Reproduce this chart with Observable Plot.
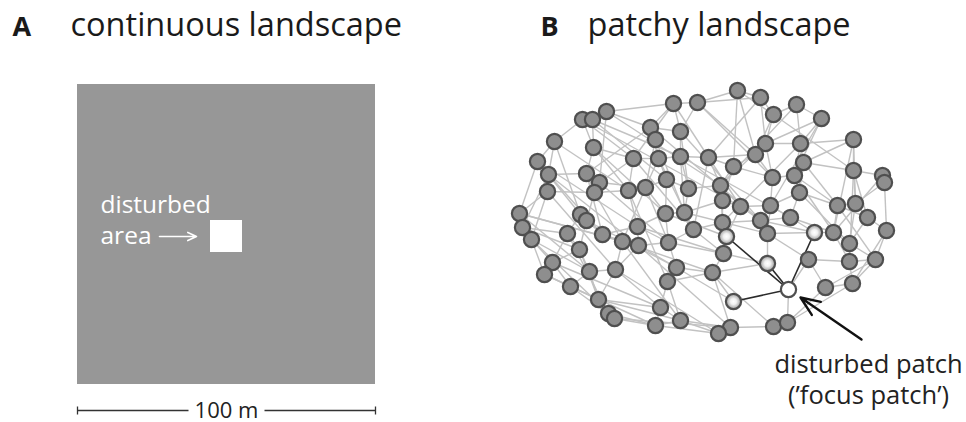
<!DOCTYPE html>
<html>
<head>
<meta charset="utf-8">
<script src="https://cdn.jsdelivr.net/npm/d3@7"></script>
<script src="https://cdn.jsdelivr.net/npm/@observablehq/plot@0.6"></script>
<style>
  html, body { margin: 0; padding: 0; background: #fff; }
  #chart svg { display: block; }
</style>
</head>
<body>
<div id="chart"></div>
<script>
// ---- Data ----
// Panel titles
const panelLetters = ["A", "B"];
const panelTitles = ["continuous landscape", "patchy landscape"];

// Panel A: continuous landscape (pixel-space extents of the square)
const landscapeX = [77, 375];
const landscapeY = [84, 384];
const disturbedAreaX = [210, 242];
const disturbedAreaY = [220, 252];
const areaLabel = ["disturbed", "area"];
const scaleBarLabel = "100 m";

// Panel B: patch network node positions
const nodeX = [737,673,697,760,606,582,592,773,796,821,650,655,680,554,593,765,755,800,853,537,
  633,658,680,708,733,803,548,586,599,666,772,794,853,882,884,547,594,628,645,688,
  720,799,722,740,770,837,855,519,522,531,580,586,567,602,637,665,684,693,722,760,
  790,867,886,622,638,668,767,833,849,579,552,544,589,615,676,667,723,808,849,875,
  712,570,598,608,614,660,655,680,825,852,730,718,773,787,
  726,814,767,733,
  788];
const nodeY = [90,103,102,97,111,119,119,114,104,118,127,139,131,141,147,143,154,143,139,161,
  158,158,156,157,166,162,174,173,182,179,177,175,170,175,182,191,192,190,187,188,
  185,192,200,206,205,205,203,213,227,239,214,220,233,234,226,213,212,229,222,220,
  217,217,230,241,245,242,233,232,243,249,262,274,271,269,267,281,253,259,261,259,
  272,286,299,313,318,307,325,320,287,283,327,333,326,322,
  236,232,263,301,
  289];
// node kind: 0 = ordinary patch, 1 = neighbour of the focus patch, 2 = focus patch
const nodeKind = nodeX.map((_, i) => i < 94 ? 0 : i < 98 ? 1 : 2);

// network links (pairs of node indices)
const edges = [
  [0,2],[0,3],[0,24],[0,7],[1,2],[1,4],[1,10],[1,12],[1,20],[2,3],[2,16],[2,12],[3,7],[3,23],
  [4,6],[4,28],[4,10],[5,6],[5,13],[5,14],[5,20],[6,14],[6,22],[7,8],[7,16],[7,32],[7,15],
  [8,9],[8,17],[9,15],[9,17],[9,31],[10,11],[10,12],[10,21],[10,27],[11,21],[11,38],[12,22],[12,39],
  [13,19],[13,26],[13,50],[14,27],[14,20],[14,37],[15,16],[15,17],[15,30],[15,40],[16,24],[16,30],[16,23],
  [17,25],[17,31],[17,18],[18,25],[18,32],[18,46],[19,26],[19,47],[19,35],[20,21],[20,37],[20,28],
  [21,22],[21,38],[21,29],[22,23],[22,39],[22,56],[23,24],[23,40],[23,57],[24,30],[24,40],[24,42],
  [25,31],[25,41],[25,32],[26,27],[26,35],[26,48],[27,28],[27,36],[27,53],[28,36],[28,38],
  [29,38],[29,39],[29,55],[30,31],[30,44],[31,41],[31,45],[32,33],[32,46],[32,61],[33,34],[34,46],[34,62],
  [35,36],[35,47],[35,49],[36,37],[36,51],[37,38],[37,54],[38,55],[38,63],[39,40],[39,56],
  [40,42],[40,58],[40,43],[41,44],[41,45],[41,60],[42,43],[42,58],[42,56],[43,44],[43,59],[43,94],
  [44,59],[44,60],[44,66],[45,46],[45,67],[45,61],[46,61],[46,68],[47,48],[48,49],[48,52],[49,70],[49,71],
  [50,51],[50,52],[50,53],[51,53],[51,69],[52,69],[52,70],[53,54],[53,63],[54,55],[54,64],[54,65],
  [55,56],[55,65],[56,57],[57,58],[57,65],[57,76],[58,94],[58,59],[59,60],[59,66],[60,95],[60,67],
  [61,62],[61,68],[62,79],[63,64],[63,73],[64,65],[64,73],[64,74],[65,74],[65,76],[66,77],[66,96],[66,95],
  [67,68],[67,95],[67,78],[68,78],[68,79],[69,72],[69,70],[70,71],[70,81],[71,81],[72,73],[72,82],[72,81],
  [73,82],[73,85],[74,75],[74,80],[75,85],[75,80],[75,87],[76,80],[76,94],[76,96],[77,78],[77,88],[77,98],
  [78,79],[78,89],[79,89],[80,97],[80,90],[80,96],[81,82],[81,84],[82,83],[82,85],[83,84],[83,86],[84,86],
  [85,86],[85,87],[86,87],[86,91],[87,91],[87,90],[88,89],[88,93],[89,93],[90,91],[90,92],[92,93],[93,98],
  [4,40],[10,59],[14,55],[20,57],[26,64],[35,73],[47,63],[49,84],[52,83],[71,86],[53,80],[63,87],
  [8,40],[9,44],[17,58],[18,67],[28,65],[37,75],[54,76],[64,90],[73,91],[70,85],[12,59],[22,60],
  [21,57],[3,15],[5,43],[13,37],[19,54],[1,43],[33,67],[62,89],[79,88],[47,72],[48,69],
  [0,16],[2,30],[6,29],[11,56],[19,50],[26,53],[36,63],[38,65],[47,64],[49,72],[51,74],[69,82],
  [55,94],[56,66],[59,95],[25,45],[31,67],[41,68],[32,78],[45,79],[84,90],[82,87],[80,92],[74,97]
];
// links from the focus patch to its disturbed neighbours
const focusEdges = [[98,94],[98,95],[98,96],[98,97]];

const focusLabel = ["disturbed patch", "(’focus patch’)"];

// ---- Build tables ----
const nodes = nodeX.map((x, i) => ({x, y: nodeY[i], kind: nodeKind[i]}));
const links = edges.map(([a, b]) => ({x1: nodeX[a], y1: nodeY[a], x2: nodeX[b], y2: nodeY[b]}));
const flinks = focusEdges.map(([a, b]) => ({x1: nodeX[a], y1: nodeY[a], x2: nodeX[b], y2: nodeY[b]}));

const W = 966, H = 422;
const font = "'Open Sans', 'Noto Sans', sans-serif";

const chart = Plot.plot({
  width: W, height: H,
  margin: 0,
  style: {fontFamily: font, background: "#fff", overflow: "visible"},
  x: {domain: [0, W], range: [0, W], axis: null},
  y: {domain: [0, H], range: [0, H], axis: null},
  marks: [
    // Panel A
    Plot.rect([{}], {x1: landscapeX[0], x2: landscapeX[1], y1: landscapeY[0], y2: landscapeY[1], fill: "#979797"}),
    Plot.rect([{}], {x1: disturbedAreaX[0], x2: disturbedAreaX[1], y1: disturbedAreaY[0], y2: disturbedAreaY[1], fill: "#fff"}),
    Plot.text([areaLabel[0]], {x: 100, y: 212, text: d => d, fill: "#fff", fontSize: 24.5, textAnchor: "start", lineAnchor: "bottom"}),
    Plot.text([areaLabel[1]], {x: 100, y: 243, text: d => d, fill: "#fff", fontSize: 24.5, textAnchor: "start", lineAnchor: "bottom"}),
    Plot.arrow([{}], {x1: 159, y1: 236, x2: 196, y2: 236, stroke: "#fff", strokeWidth: 1.6, headLength: 9, headAngle: 50}),
    // scale bar
    Plot.link([{x1: landscapeX[0], x2: 188}, {x1: 264, x2: landscapeX[1]}], {x1: "x1", x2: "x2", y1: 410, y2: 410, stroke: "#333", strokeWidth: 1.3}),
    Plot.link([landscapeX[0], landscapeX[1]], {x1: d => d, x2: d => d, y1: 406, y2: 414, stroke: "#333", strokeWidth: 1.3}),
    Plot.text([scaleBarLabel], {x: (landscapeX[0] + landscapeX[1]) / 2, y: 417, text: d => d, fill: "#222", fontSize: 22, lineAnchor: "bottom"}),
    // Panel B network
    Plot.link(links, {x1: "x1", y1: "y1", x2: "x2", y2: "y2", stroke: "#c2c2c2", strokeWidth: 1.4}),
    Plot.link(flinks, {x1: "x1", y1: "y1", x2: "x2", y2: "y2", stroke: "#2b2b2b", strokeWidth: 1.6}),
    Plot.dot(nodes.filter(d => d.kind === 0), {x: "x", y: "y", r: 7.6, fill: "#8e8e8e", stroke: "#4f4f4f", strokeWidth: 2.2}),
    Plot.dot(nodes.filter(d => d.kind === 1), {x: "x", y: "y", r: 7.6, fill: "url(#nbrGrad)", stroke: "#4f4f4f", strokeWidth: 2.2}),
    Plot.dot(nodes.filter(d => d.kind === 2), {x: "x", y: "y", r: 7.6, fill: "#fff", stroke: "#4f4f4f", strokeWidth: 2.2}),
    Plot.arrow([{}], {x1: 861, y1: 339, x2: 800, y2: 297, stroke: "#111", strokeWidth: 2.4, headLength: 13, headAngle: 45}),
    Plot.text([focusLabel[0]], {x: 868, y: 372, text: d => d, fill: "#222", fontSize: 25.5, lineAnchor: "bottom"}),
    Plot.text([focusLabel[1]], {x: 868, y: 403, text: d => d, fill: "#222", fontSize: 25.5, lineAnchor: "bottom"}),
    // titles
    Plot.text([panelLetters[0]], {x: 12, y: 35, text: d => d, fill: "#1a1a1a", fontSize: 27, fontWeight: "bold", textAnchor: "start", lineAnchor: "bottom"}),
    Plot.text([panelTitles[0]], {x: 70, y: 35, text: d => d, fill: "#1a1a1a", fontSize: 32.5, textAnchor: "start", lineAnchor: "bottom"}),
    Plot.text([panelLetters[1]], {x: 540, y: 35, text: d => d, fill: "#1a1a1a", fontSize: 27, fontWeight: "bold", textAnchor: "start", lineAnchor: "bottom"}),
    Plot.text([panelTitles[1]], {x: 587, y: 35, text: d => d, fill: "#1a1a1a", fontSize: 32.5, textAnchor: "start", lineAnchor: "bottom"})
  ]
});

// radial gradient for the disturbed neighbour patches
const svg = d3.select(chart);
const defs = svg.insert("defs", ":first-child");
const g = defs.append("radialGradient").attr("id", "nbrGrad").attr("cx", "50%").attr("cy", "50%").attr("r", "55%");
g.append("stop").attr("offset", "0%").attr("stop-color", "#ffffff");
g.append("stop").attr("offset", "35%").attr("stop-color", "#f2f2f2");
g.append("stop").attr("offset", "100%").attr("stop-color", "#8e8e8e");

document.getElementById("chart").appendChild(chart);
</script>
</body>
</html>
